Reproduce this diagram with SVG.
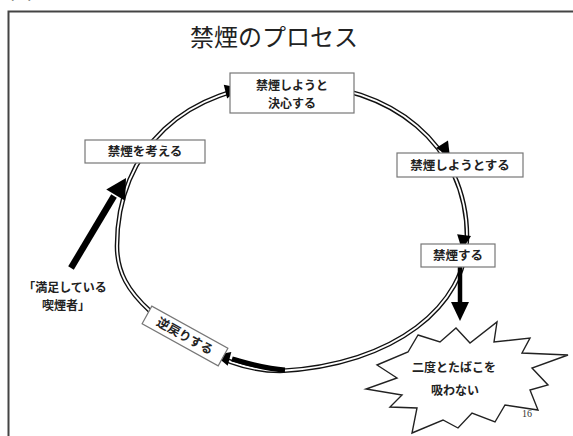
<svg xmlns="http://www.w3.org/2000/svg" xmlns:xlink="http://www.w3.org/1999/xlink" width="573" height="436" viewBox="0 0 573 436">
<style>
.lbl{font-family:"Noto Sans CJK JP","Noto Sans",sans-serif;font-weight:bold;font-size:12.5px;fill:#222;text-anchor:middle}
.sm{font-size:12px}
.box{fill:#fff;stroke:#777;stroke-width:1.2}
.ringo{fill:none;stroke:#111;stroke-width:4.6}
.ringi{fill:none;stroke:#fff;stroke-width:1.8}
.thick{fill:none;stroke:#000;stroke-linecap:butt}
</style>
<defs>
<path id="ringpath" d="M117,246 C117,150 186,84 290,84 C392,84 467,145 467,237 C467,305 395,365 280,371 C225,371 175,334 150,311 C128,291 117,272 117,246 Z"/>
<path id="ah" d="M0,0 L-15,-7 L-15,7 Z" fill="#000"/>
<path id="ahb" d="M0,0 L-20,-11 L-20,11 Z" fill="#000"/>
</defs>
<rect width="573" height="436" fill="#fff"/>
<text x="10" y="-2.5" font-family="Noto Sans CJK JP,sans-serif" font-size="22" fill="#222">図</text>
<path d="M8.5,436 V11.5 H573" fill="none" stroke="#444" stroke-width="2"/>
<text x="274" y="46" font-family="Noto Sans CJK JP,Noto Sans,sans-serif" font-size="24" fill="#222" text-anchor="middle">禁煙のプロセス</text>
<g id="connectors">
<use xlink:href="#ringpath" class="ringo"/>
<use xlink:href="#ringpath" class="ringi"/>
<use xlink:href="#ah" transform="translate(240,88) rotate(-14)"/>
<use xlink:href="#ah" transform="translate(450,157) rotate(58)"/>
<use xlink:href="#ah" transform="translate(462,250) rotate(98)"/>
<path class="thick" d="M460,267 V303" stroke-width="4.5"/>
<path d="M460,321 L451,302 L469,302 Z" fill="#000"/>
<path class="thick" d="M285,370 C265,369 250,364 232,359" stroke-width="5"/>
<use xlink:href="#ah" transform="translate(215,355) rotate(195)"/>
<path class="thick" d="M71,268 L114,196" stroke-width="6.5"/>
<use xlink:href="#ahb" transform="translate(126,178) rotate(-59)"/>
</g>
<g id="n-kangaeru">
<rect class="box" x="85" y="140" width="120" height="23"/>
<text class="lbl" x="145" y="156">禁煙を考える</text>
</g>
<g id="n-kesshin">
<rect class="box" x="230" y="73" width="124" height="40"/>
<text class="lbl sm" x="292" y="90">禁煙しようと</text>
<text class="lbl sm" x="292" y="107.5">決心する</text>
</g>
<g id="n-shiyou">
<rect class="box" x="397" y="153" width="126" height="24"/>
<text class="lbl" x="460" y="169.5">禁煙しようとする</text>
</g>
<g id="n-kinen">
<rect class="box" x="421" y="244" width="74" height="23"/>
<text class="lbl" x="458" y="260">禁煙する</text>
</g>
<g id="n-modori" transform="translate(185,336) rotate(29)">
<rect class="box" x="-43.5" y="-10" width="87" height="20"/>
<text class="lbl" x="0" y="4.5">逆戻りする</text>
</g>
<g id="n-manzoku">
<text class="lbl sm" x="65" y="292">「満足している</text>
<text class="lbl sm" x="66" y="310">喫煙者」</text>
</g>
<g id="n-burst">
<polygon points="418,335 440,342 456,328 470,343 497,322 494,342 530,338 522,353 568,355 532,368 548,385 530,390 538,410 505,405 495,422 472,413 458,428 443,420 412,433 417,408 390,407 402,395 366,389 397,378 377,365 408,352" fill="#fff" stroke="#222" stroke-width="1.4" stroke-linejoin="miter"/>
<text class="lbl sm" x="454" y="372">二度とたばこを</text>
<text class="lbl sm" x="455" y="395">吸わない</text>
</g>
<text x="527" y="417" font-family="Liberation Serif,serif" font-size="10" fill="#333" text-anchor="middle">16</text>
</svg>
